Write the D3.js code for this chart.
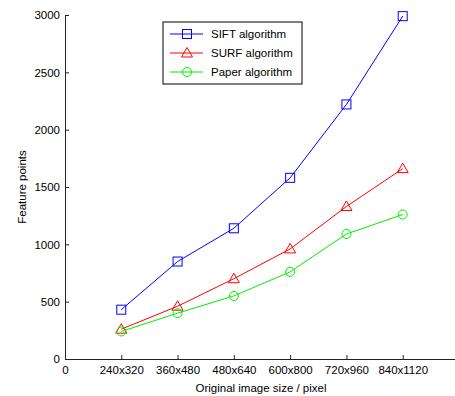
<!DOCTYPE html>
<html>
<head>
<meta charset="utf-8">
<script src="https://cdn.jsdelivr.net/npm/d3@7"></script>
<style>
  body { margin: 0; background: #fff; }
  svg text { font-family: "Liberation Sans", Arial, sans-serif; }
</style>
</head>
<body>
<div id="chart"></div>
<script>
// categories and series
const sizes = ["240x320", "360x480", "480x640", "600x800", "720x960", "840x1120"];
const sift = [430, 850, 1140, 1580, 2220, 2990];
const surf = [260, 460, 700, 960, 1330, 1660];
const paper = [240, 400, 550, 760, 1090, 1260];
const yTicks = [0, 500, 1000, 1500, 2000, 2500, 3000];

const W = 455, H = 396;
const svg = d3.select("#chart").append("svg")
    .attr("width", W)
    .attr("height", H);

// x: position index 0..7, 0 at the axis origin
const x = d3.scaleLinear().domain([0, 7]).range([65, 459]);
const y = d3.scaleLinear().domain([0, 3000]).range([359, 15]);

// y axis
svg.append("g")
    .attr("transform", "translate(65,0)")
    .call(d3.axisLeft(y).tickValues(yTicks).tickFormat(d3.format("d"))
        .tickSizeInner(-4).tickSizeOuter(0).tickPadding(5))
    .call(g => g.selectAll("text").attr("font-size", 11.5).attr("fill", "#000"))
    .call(g => g.selectAll("line, path").attr("stroke", "#222"));

// x axis
const xTickVals = d3.range(0, 7);
svg.append("g")
    .attr("transform", "translate(0,359)")
    .call(d3.axisBottom(x).tickValues(xTickVals)
        .tickFormat(i => i === 0 ? "0" : sizes[i - 1])
        .tickSizeInner(-4).tickSizeOuter(0).tickPadding(7))
    .call(g => g.selectAll("text").attr("font-size", 11.5).attr("fill", "#000"))
    .call(g => g.selectAll("line, path").attr("stroke", "#222"));

// axis labels
svg.append("text")
    .attr("x", 261).attr("y", 392)
    .attr("text-anchor", "middle")
    .attr("font-size", 11.5)
    .text("Original image size / pixel");

svg.append("text")
    .attr("transform", "translate(26,187) rotate(-90)")
    .attr("text-anchor", "middle")
    .attr("font-size", 11.5)
    .text("Feature points");

const series = [
  { name: "SIFT algorithm", values: sift, color: "#0000ff", marker: "square" },
  { name: "SURF algorithm", values: surf, color: "#ff0000", marker: "triangle" },
  { name: "Paper algorithm", values: paper, color: "#00ee00", marker: "circle" }
];

function drawMarker(g, type, cx, cy, color) {
  if (type === "square") {
    g.append("rect").attr("x", cx - 4.5).attr("y", cy - 4.5)
      .attr("width", 9).attr("height", 9)
      .attr("fill", "none").attr("stroke", color).attr("stroke-width", 1);
  } else if (type === "triangle") {
    g.append("path")
      .attr("d", `M${cx},${cy - 5.5}L${cx + 5.5},${cy + 4}L${cx - 5.5},${cy + 4}Z`)
      .attr("fill", "none").attr("stroke", color).attr("stroke-width", 1);
  } else {
    g.append("circle").attr("cx", cx).attr("cy", cy).attr("r", 4.5)
      .attr("fill", "none").attr("stroke", color).attr("stroke-width", 1);
  }
}

const line = d3.line()
    .x((d, i) => x(i + 1))
    .y(d => y(d));

series.forEach(s => {
  const g = svg.append("g");
  g.append("path")
    .datum(s.values)
    .attr("fill", "none")
    .attr("stroke", s.color)
    .attr("stroke-width", 1)
    .attr("d", line);
  s.values.forEach((v, i) => drawMarker(g, s.marker, x(i + 1), y(v), s.color));
});

// legend
const lg = svg.append("g").attr("transform", "translate(163,22)");
lg.append("rect")
    .attr("width", 139).attr("height", 62)
    .attr("fill", "#fff").attr("stroke", "#000").attr("stroke-width", 1);
series.forEach((s, i) => {
  const cy = 12 + i * 19;
  lg.append("line")
    .attr("x1", 7).attr("x2", 40).attr("y1", cy).attr("y2", cy)
    .attr("stroke", s.color).attr("stroke-width", 1);
  drawMarker(lg, s.marker, 24, cy, s.color);
  lg.append("text")
    .attr("x", 48).attr("y", cy + 4)
    .attr("font-size", 11.5)
    .text(s.name);
});
</script>
</body>
</html>
